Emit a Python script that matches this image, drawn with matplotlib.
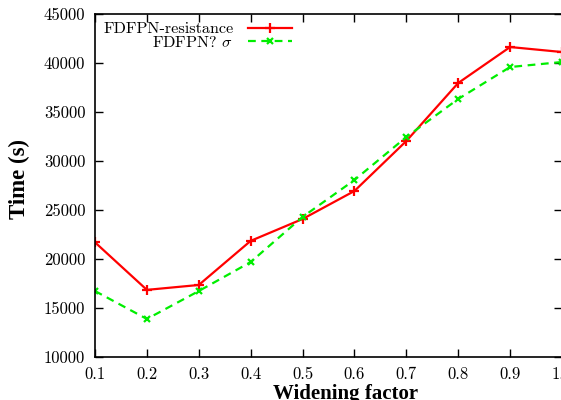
import matplotlib
matplotlib.use("Agg")
import matplotlib.pyplot as plt

x = [0.1, 0.2, 0.3, 0.4, 0.5, 0.6, 0.7, 0.8, 0.9, 1.0]
resistance = [21700, 16850, 17350, 21850, 24080, 26940, 32040, 37960, 41630, 41120]
sigma = [16730, 13880, 16730, 19690, 24290, 28060, 32450, 36330, 39590, 40100]
xticks = [0.1, 0.2, 0.3, 0.4, 0.5, 0.6, 0.7, 0.8, 0.9, 1.0]
yticks = [10000, 15000, 20000, 25000, 30000, 35000, 40000, 45000]

plt.rcParams['mathtext.fontset'] = 'cm'
plt.rcParams['axes.formatter.use_mathtext'] = True

fig = plt.figure(figsize=(5.61, 4.0), dpi=100)
L, R, T, B = 95, 562, 14, 357
ax = fig.add_axes([L/561, 1-B/400, (R-L)/561, (B-T)/400])

ax.plot(x, resistance, color='#ff0000', lw=1.6, marker='+', ms=7, mew=1.6,
        label='FDFPN-resistance')
ax.plot(x, sigma, color='#00ee00', lw=1.6, ls=(0, (3.5, 2.5)), marker='x', ms=4.5, mew=1.6,
        label='FDFPN? $\\sigma$')

ax.set_xlim(0.1, 1.0)
ax.set_ylim(10000, 45000)
ax.set_xticks(xticks)
ax.set_xticklabels(['%.1f' % v for v in xticks], family='cmr10', fontsize=12)
ax.set_yticks(yticks)
ax.set_yticklabels([str(v) for v in yticks], family='cmr10', fontsize=12)
ax.tick_params(direction='in', top=True, right=True, length=6, width=1, pad=7)
for s in ax.spines.values():
    s.set_linewidth(1.2)

ax.set_xlabel('Widening factor', family='Liberation Serif', fontweight='bold', fontsize=15)
ax.xaxis.set_label_coords((346-L)/(R-L), -(383.5-B)/(B-T), transform=ax.transAxes)
ax.xaxis.label.set_va('top')
ax.set_ylabel('Time (s)', family='Liberation Serif', fontweight='bold', fontsize=16.5)
ax.yaxis.set_label_coords((19-L)/(R-L), (B-179)/(B-T))
ax.yaxis.label.set_va('center')

leg = ax.legend(loc='upper left', bbox_to_anchor=(0.0, 1.0), frameon=False, markerfirst=False,
                prop={'family': 'cmr10', 'size': 11.7}, handlelength=2.7, handletextpad=0.9,
                labelspacing=-0.1, borderaxespad=0.2, borderpad=0.3)
try:
    leg._legend_box._children[-1]._children[0].align = 'right'
except Exception:
    pass

fig.savefig('out.png', dpi=100)
